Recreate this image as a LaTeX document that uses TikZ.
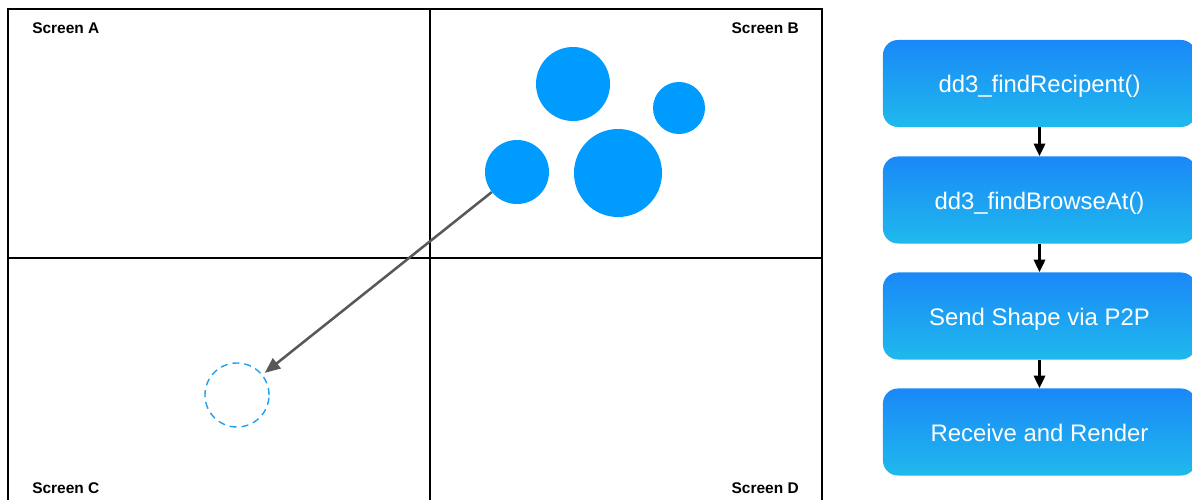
\documentclass[tikz,border=0pt]{standalone}
\usepackage{fontspec}
\setmainfont{Liberation Sans}
\usetikzlibrary{arrows.meta}
\definecolor{dotblue}{RGB}{0,155,255}
\definecolor{dashblue}{RGB}{30,160,245}
\definecolor{gtop}{RGB}{26,136,248}
\definecolor{gbot}{RGB}{31,185,236}
\definecolor{arrgray}{RGB}{88,88,88}
\tikzset{
  screenlabel/.style={font=\bfseries\fontsize{11}{13}\selectfont, inner sep=0pt},
  dot/.style={circle, fill=dotblue, inner sep=0pt, minimum size=#1*0.05cm},
  ghost/.style={circle, draw=dashblue, dash pattern=on 5pt off 3.5pt, line width=1pt, inner sep=0pt, minimum size=#1*0.05cm},
  flowbox/.style={rounded corners=0.375cm, top color=gtop, bottom color=gbot, draw=none,
    minimum width=7.825cm, minimum height=2.175cm, inner sep=0pt,
    text height=13pt, text depth=0pt,
    text=white, font=\fontsize{17}{20}\selectfont},
  flowarrow/.style={draw=black, line width=2pt, -{Triangle[length=9pt,width=8pt]}},
  grid/.style={line width=1pt, black}
}
\begin{document}
\begin{tikzpicture}[x=0.025cm, y=-0.025cm]
\useasboundingbox (0,0) rectangle (1192,500);
% grid
\draw[grid] (8,520) -- (8,9) -- (822,9) -- (822,520);
\draw[grid] (430,9) -- (430,520);
\draw[grid] (8,258) -- (822,258);
% labels
\node[screenlabel, anchor=west] (la) at (32,28) {Screen A};
\node[screenlabel, anchor=east] (lb) at (799,28) {Screen B};
\node[screenlabel, anchor=west] (lc) at (32,488) {Screen C};
\node[screenlabel, anchor=east] (ld) at (799,488) {Screen D};
% circles
\node[dot=37] (c1) at (573,84) {};
\node[dot=26] (c2) at (679,108) {};
\node[dot=32] (c3) at (517,172) {};
\node[dot=44] (c4) at (618,173) {};
\node[ghost=32] (g) at (237,395) {};
\draw[arrgray, line width=1.8pt, -{Triangle[length=11pt,width=9pt]}, shorten >=2pt] (c3) -- (g);
% flow
\node[flowbox] (f1) at (1039.5,83.5) {dd3\_findRecipent()};
\node[flowbox] (f2) at (1039.5,200) {dd3\_findBrowseAt()};
\node[flowbox] (f3) at (1039.5,316) {Send Shape via P2P};
\node[flowbox] (f4) at (1039.5,432) {Receive and Render};
\draw[flowarrow] (f1.south) -- (f2.north);
\draw[flowarrow] (f2.south) -- (f3.north);
\draw[flowarrow] (f3.south) -- (f4.north);
\end{tikzpicture}
\end{document}
